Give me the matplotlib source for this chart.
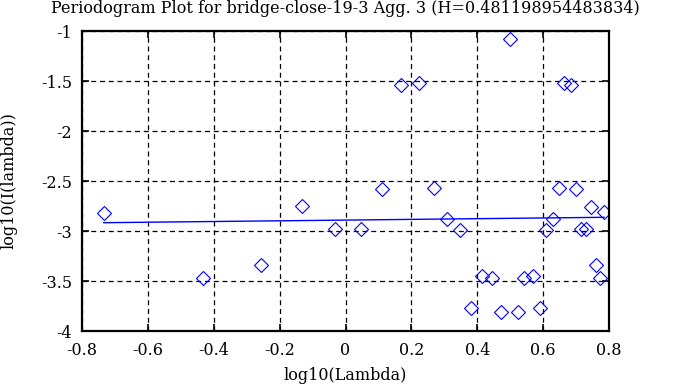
import matplotlib
matplotlib.use("Agg")
import matplotlib.pyplot as plt
from matplotlib.ticker import FuncFormatter

title = "Periodogram Plot for bridge-close-19-3 Agg. 3 (H=0.481198954483834)"
xlabel = "log10(Lambda)"
ylabel = "log10(I(lambda))"

log_lambda = [-0.734, -0.434, -0.256, -0.131, -0.032, 0.046, 0.112, 0.170, 0.222,
              0.269, 0.309, 0.348, 0.382, 0.414, 0.444, 0.472, 0.499, 0.524, 0.543,
              0.568, 0.589, 0.610, 0.629, 0.647, 0.664, 0.684, 0.700, 0.714, 0.730,
              0.744, 0.760, 0.772, 0.785]
log_I = [-2.817, -3.467, -3.343, -2.753, -2.980, -2.980, -2.583, -1.540, -1.523,
         -2.570, -2.883, -2.987, -3.767, -3.453, -3.473, -3.810, -1.077, -3.810, -3.473,
         -3.453, -3.767, -2.987, -2.883, -2.570, -1.517, -1.540, -2.583, -2.980, -2.980,
         -2.760, -3.340, -3.467, -2.813]

fit_x = [-0.734, 0.785]
fit_y = [-2.917, -2.863]

xticks = [-0.8, -0.6, -0.4, -0.2, 0, 0.2, 0.4, 0.6, 0.8]
yticks = [-4, -3.5, -3, -2.5, -2, -1.5, -1]

plt.rcParams['font.family'] = ['DejaVu Serif']
FS = 11.5
fig = plt.figure(figsize=(6.88, 3.87), dpi=100)
ax = fig.add_axes([82/688, 1-331/387, (609-82)/688, (331-31)/387])

ax.plot(log_lambda, log_I, linestyle='none', marker='D', markersize=7.1,
        markerfacecolor='none', markeredgecolor='#0000ff', markeredgewidth=0.8)
ax.plot(fit_x, fit_y, color='#0000ff', linewidth=1.0)

ax.set_xlim(-0.8, 0.8)
ax.set_ylim(-4, -1)
ax.set_xticks(xticks)
ax.set_yticks(yticks)
fmt = FuncFormatter(lambda v, p: "%g" % v)
ax.xaxis.set_major_formatter(fmt)
ax.yaxis.set_major_formatter(fmt)
ax.grid(True, color='black', linestyle=(0, (4, 3)), linewidth=0.9)
ax.tick_params(direction='in', length=5, width=1.2, top=True, right=True,
               labelsize=FS, colors='black')
ax.tick_params(axis='x', pad=8)
ax.tick_params(axis='y', pad=7)
for s in ax.spines.values():
    s.set_linewidth(1.6)

ax.set_title(title, fontsize=FS, pad=13)
ax.set_xlabel(xlabel, fontsize=FS, va='baseline')
ax.xaxis.set_label_coords(0.5, -(380-331)/300)
ax.set_ylabel(ylabel, fontsize=FS, va='center')
ax.yaxis.set_label_coords(-(82-9)/527, 0.5)

fig.savefig("out.png", dpi=100)
